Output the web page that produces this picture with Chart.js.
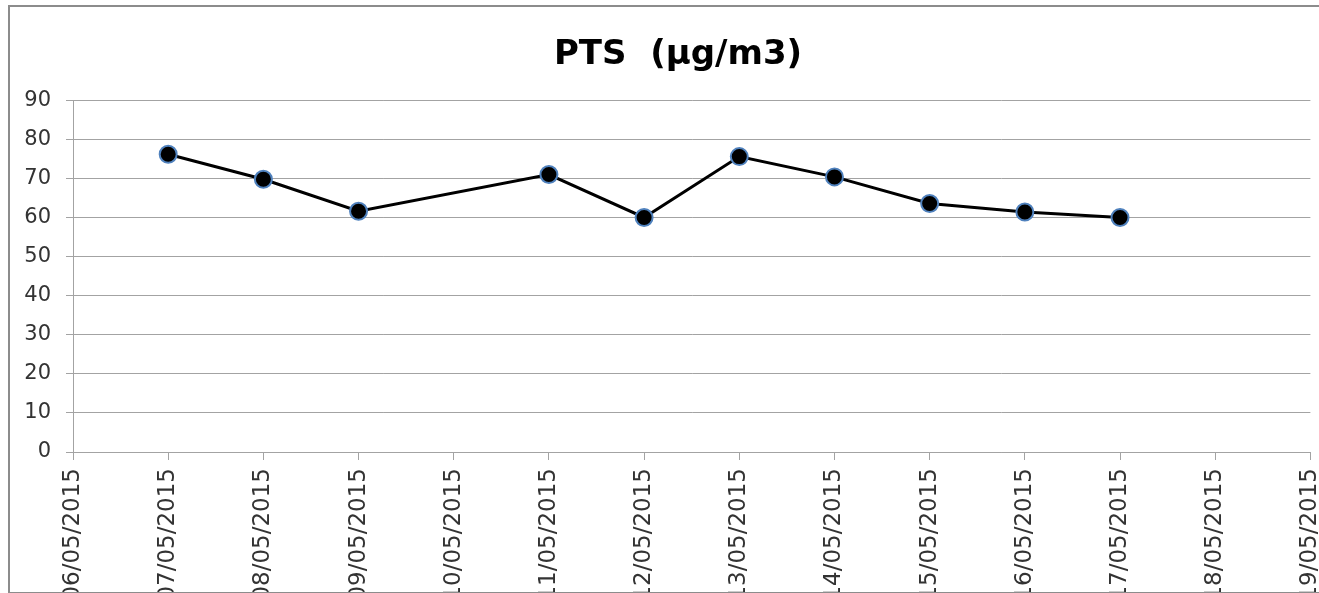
<!DOCTYPE html>
<html>
<head>
<meta charset="utf-8">
<script src="https://cdn.jsdelivr.net/npm/chart.js@4.4.1/dist/chart.umd.min.js"></script>
<style>
  html, body { margin: 0; padding: 0; background: #fff; overflow: hidden; }
  #frame {
    position: absolute;
    left: 8px;
    top: 5px;
    width: 1360px;
    height: 585px;
    border: 2px solid #8c8c8c;
    border-right: none;
    overflow: hidden;
  }
  #pts-chart { display: block; }
</style>
</head>
<body>
<div id="frame">
  <canvas id="pts-chart" width="1336" height="585"></canvas>
</div>
<script>
// dates on the x axis (one per day)
const dateLabels = [
  '06/05/2015', '07/05/2015', '08/05/2015', '09/05/2015', '10/05/2015',
  '11/05/2015', '12/05/2015', '13/05/2015', '14/05/2015', '15/05/2015',
  '16/05/2015', '17/05/2015', '18/05/2015', '19/05/2015'
];

// PTS values, null where there was no measurement
const ptsValues = [
  null, 76.3, 69.9, 61.7, null,
  71.1, 60.1, 75.7, 70.5, 63.7,
  61.5, 60.1, null, null
];

const yTicksMin = 0;
const yTicksMax = 90;
const yTicksStep = 10;

const chartTitle = 'PTS  (µg/m3)';

const gridColor = '#a3a3a3';
const labelColor = '#333333';

const data = {
  labels: dateLabels,
  datasets: [
    {
      label: 'PTS',
      data: ptsValues,
      borderColor: '#000000',
      borderWidth: 3,
      pointRadius: 8.5,
      pointBorderWidth: 2,
      pointBackgroundColor: '#000000',
      pointBorderColor: '#4f81bd',
      spanGaps: true,
      tension: 0,
    },
  ],
};

const ctx = document.getElementById('pts-chart');

new Chart(ctx, {
  type: 'line',
  data: data,
  options: {
    responsive: false,
    animation: false,
    devicePixelRatio: 1,
    layout: {
      padding: { left: 0, right: 0, top: 0, bottom: 0 },
    },
    plugins: {
      legend: { display: false },
      tooltip: { enabled: false },
      title: {
        display: true,
        text: chartTitle,
        color: '#000000',
        font: { family: 'DejaVu Sans', size: 34, weight: 'bold' },
        padding: { top: 28, bottom: 25 },
      },
    },
    scales: {
      x: {
        offset: false,
        grid: {
          display: true,
          drawOnChartArea: false,
          color: gridColor,
          tickLength: 8,
        },
        border: { display: true, color: gridColor, width: 1 },
        ticks: {
          autoSkip: false,
          minRotation: 90,
          maxRotation: 90,
          padding: 8,
          color: labelColor,
          font: { family: 'DejaVu Sans', size: 23 },
        },
        afterFit: (scale) => {
          scale.height = 140;
        },
      },
      y: {
        min: yTicksMin,
        max: yTicksMax,
        grid: {
          color: gridColor,
          tickLength: 7,
        },
        border: { display: true, color: gridColor, width: 1 },
        ticks: {
          stepSize: yTicksStep,
          padding: 15,
          color: labelColor,
          font: { family: 'DejaVu Sans', size: 21 },
        },
        afterFit: (scale) => {
          scale.width = 63;
        },
      },
    },
  },
});
</script>
</body>
</html>
